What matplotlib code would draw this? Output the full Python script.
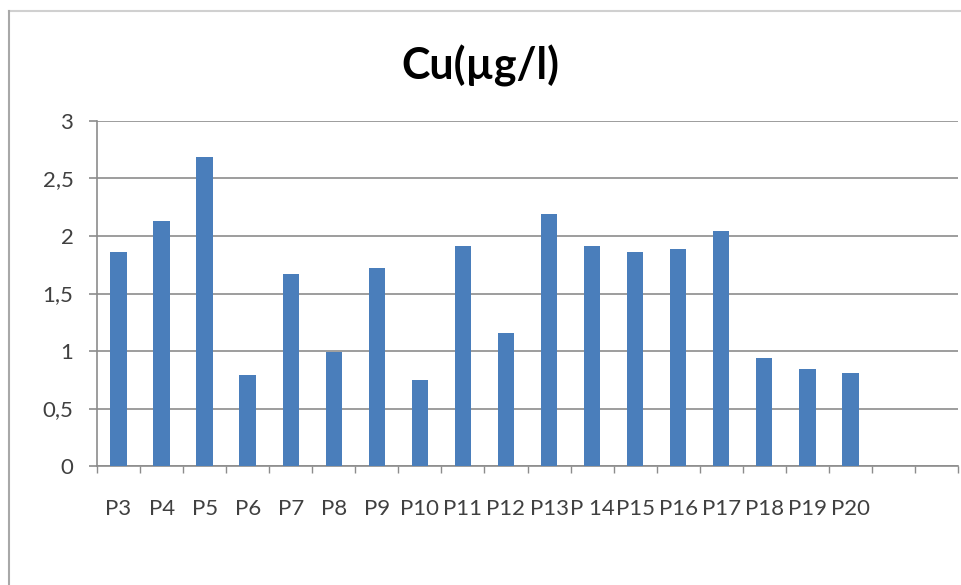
import numpy as np
import matplotlib
matplotlib.use("Agg")
import matplotlib.pyplot as plt
from matplotlib.lines import Line2D
from matplotlib.ticker import FixedLocator, FuncFormatter

# Copper concentration per sampling point
stations = ["P3", "P4", "P5", "P6", "P7", "P8", "P9", "P10", "P11", "P12",
            "P13", "P 14", "P15", "P16", "P17", "P18", "P19", "P20", "", ""]
cu_values = [1.86, 2.13, 2.69, 0.79, 1.67, 0.99, 1.72, 0.75, 1.91, 1.16,
             2.19, 1.91, 1.86, 1.89, 2.04, 0.94, 0.84, 0.81]
y_ticks = [0, 0.5, 1, 1.5, 2, 2.5, 3]

plt.rcParams['font.family'] = ['Lato', 'DejaVu Sans']

fig = plt.figure(figsize=(9.61, 5.85), dpi=100)
W, H = 961, 585
ax = fig.add_axes([97 / W, (H - 466) / H, 861 / W, 345 / H])

bar_color = '#4a7ebb'
grid_color = '#8c8c8c'
text_color = '#404040'

x = np.arange(len(cu_values))
ax.bar(x, cu_values, width=0.38, color=bar_color, zorder=3)

ax.set_xlim(-0.5, len(stations) - 0.5)
ax.set_ylim(0, 3)

# Horizontal gridlines, y axis ticks reaching out from them
ax.yaxis.set_major_locator(FixedLocator(y_ticks))
ax.yaxis.set_major_formatter(
    FuncFormatter(lambda v, _: ('%g' % v).replace('.', ',')))
ax.grid(axis='y', color=grid_color, linewidth=1.2, zorder=0)
ax.tick_params(axis='y', length=6, width=1.2, color=grid_color, pad=11,
               labelsize=16, labelcolor=text_color)

# Category labels centred, tick marks at category boundaries
ax.set_xticks(np.arange(len(stations)))
ax.set_xticklabels(stations)
ax.set_xticks(np.arange(len(stations) + 1) - 0.5, minor=True)
ax.tick_params(axis='x', which='major', length=0, pad=24,
               labelsize=16, labelcolor=text_color)
ax.tick_params(axis='x', which='minor', length=5, width=1.0,
               color=grid_color)

for side in ('top', 'right'):
    ax.spines[side].set_visible(False)
for side in ('left', 'bottom'):
    ax.spines[side].set_color(grid_color)
    ax.spines[side].set_linewidth(1.2)

fig.text(480 / W, 1 - 66 / H, "Cu(µg/l)", ha='center', va='center',
         fontsize=31, fontweight='bold', color='black')

# Chart frame
fig.add_artist(Line2D([9 / W, 1], [1 - 11 / H] * 2, color='#d0d0d0',
                      linewidth=1.5, transform=fig.transFigure))
fig.add_artist(Line2D([9 / W] * 2, [0, 1 - 11 / H], color='#a8a8a8',
                      linewidth=1.5, transform=fig.transFigure))

fig.savefig("out.png", dpi=100)
